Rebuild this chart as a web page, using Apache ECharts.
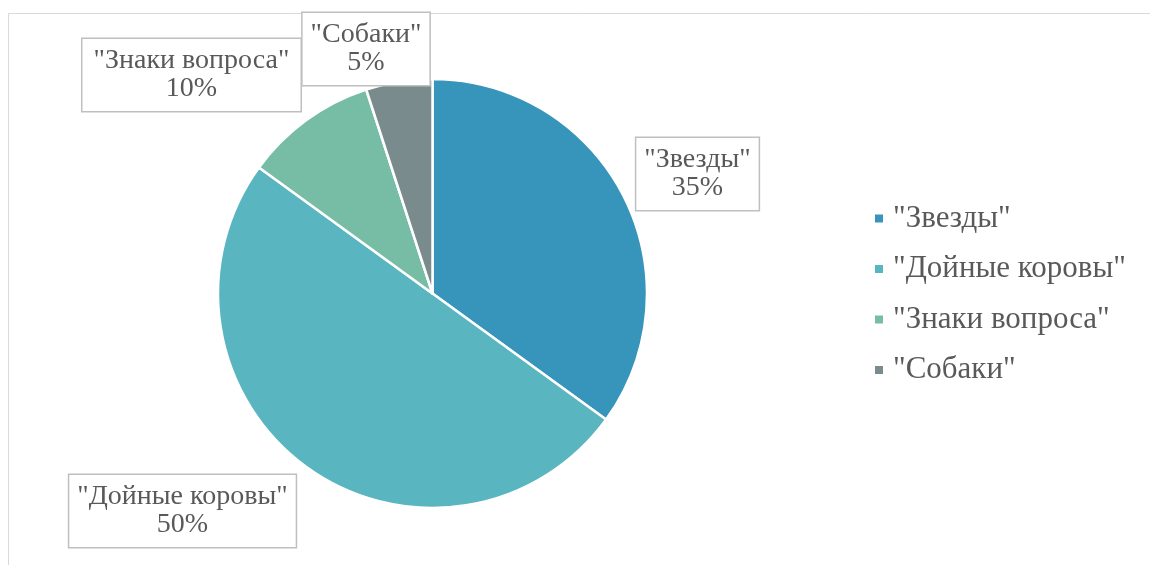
<!DOCTYPE html>
<html>
<head>
<meta charset="utf-8">
<script src="https://cdn.jsdelivr.net/npm/echarts@6/dist/echarts.min.js"></script>
<style>
  html, body { margin: 0; padding: 0; background: #fff; }
  #chart { width: 1150px; height: 565px; }
</style>
</head>
<body>
<div id="chart"></div>
<script>
// Category names and their shares (percent)
const categories = ['"Звезды"', '"Дойные коровы"', '"Знаки вопроса"', '"Собаки"'];
const shares = [35, 50, 10, 5];
const colors = ['#3795bb', '#59b5c0', '#77bda6', '#7a8b8d'];

// Where each boxed label sits (centre of the box)
const labelCenters = [[697.5, 174], [182.5, 511], [191.5, 75], [366, 49]];

const chart = echarts.init(document.getElementById('chart'));
const fontFamily = '"Liberation Serif", "Times New Roman", serif';

chart.setOption({
  animation: false,
  graphic: [{
    type: 'rect',
    shape: { x: 8.5, y: 13.5, width: 1300, height: 700 },
    style: { fill: 'none', stroke: '#d9d9d9', lineWidth: 1 },
    silent: true
  }],
  legend: {
    orient: 'vertical',
    left: 873,
    top: 203,
    padding: 0,
    itemWidth: 10,
    itemHeight: 10,
    itemGap: 19.5,
    icon: 'rect',
    data: categories,
    textStyle: { fontFamily: fontFamily, fontSize: 31, lineHeight: 31, color: '#595959', padding: [0, 0, 0, 4] }
  },
  series: [{
    type: 'pie',
    center: [432.5, 293.5],
    radius: 214.5,
    startAngle: 90,
    clockwise: true,
    itemStyle: { borderColor: '#fff', borderWidth: 2.5 },
    label: {
      show: true,
      position: 'outside',
      formatter: p => p.name + '\n' + p.value + '%',
      fontFamily: fontFamily,
      fontSize: 28,
      lineHeight: 28,
      color: '#595959',
      backgroundColor: '#fff',
      borderColor: '#bfbfbf',
      borderWidth: 1.5,
      padding: [8, 8],
      align: 'center'
    },
    labelLine: { show: false },
    labelLayout: p => ({
      x: labelCenters[p.dataIndex][0],
      y: labelCenters[p.dataIndex][1],
      align: 'center',
      verticalAlign: 'middle'
    }),
    data: categories.map((n, i) => ({ name: n, value: shares[i], itemStyle: { color: colors[i] } }))
  }]
});
</script>
</body>
</html>
